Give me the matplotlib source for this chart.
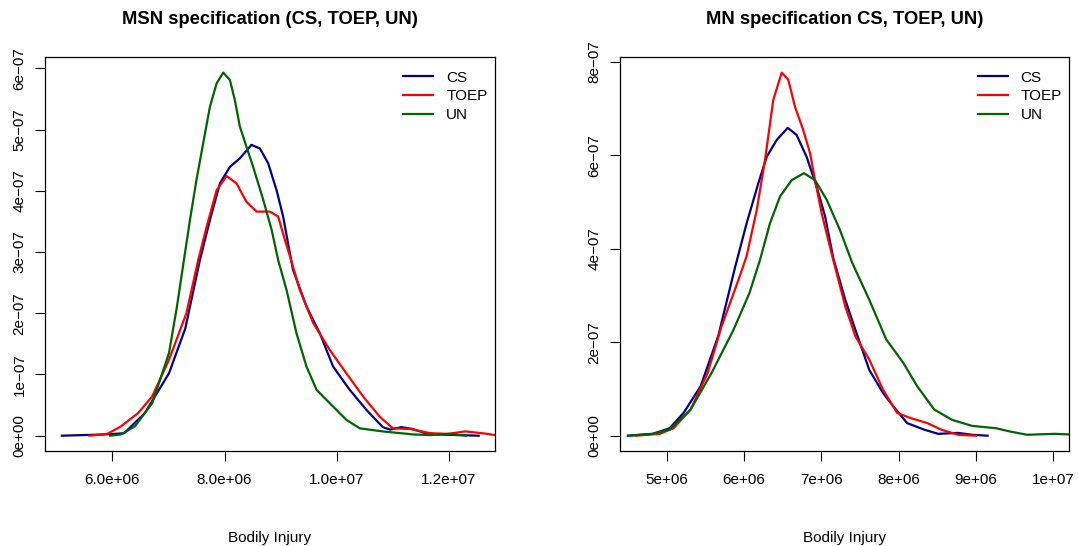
import matplotlib
matplotlib.use("Agg")
import matplotlib.pyplot as plt
import numpy as np

plt.rcParams['font.family'] = ['Liberation Sans', 'DejaVu Sans']

# ======== data (x in 1e6, y in 1e-7) ========
# left panel: MSN specification
msn_cs_x = [5.10, 5.85, 6.21, 6.58, 7.01, 7.30, 7.561, 7.739, 7.917, 8.095, 8.273, 8.48,
            8.63, 8.777, 8.927, 9.044, 9.164, 9.22, 9.46, 9.70, 9.934, 10.23, 10.53,
            10.82, 10.95, 11.15, 11.35, 11.55, 11.80, 12.53]
msn_cs_y = [0.0, 0.02, 0.04, 0.37, 1.02, 1.75, 2.87, 3.52, 4.12, 4.39, 4.53, 4.75,
            4.69, 4.45, 4.01, 3.58, 2.98, 2.71, 2.11, 1.67, 1.13, 0.75, 0.42,
            0.14, 0.10, 0.14, 0.11, 0.05, 0.02, 0.0]

msn_toep_x = [5.59, 5.91, 6.15, 6.46, 6.71, 7.01, 7.32, 7.531, 7.68, 7.859, 8.036, 8.214,
              8.39, 8.57, 8.807, 8.955, 9.075, 9.133, 9.342, 9.58, 9.876, 10.17, 10.47,
              10.766, 11.0, 11.31, 11.67, 11.98, 12.29, 12.60, 12.90]
msn_toep_y = [0.0, 0.03, 0.15, 0.37, 0.64, 1.24, 2.00, 2.87, 3.41, 4.01, 4.24, 4.12,
              3.82, 3.66, 3.66, 3.58, 3.20, 3.03, 2.38, 1.84, 1.40, 1.02, 0.64,
              0.31, 0.12, 0.11, 0.04, 0.03, 0.07, 0.04, 0.0]

msn_un_x = [5.96, 6.15, 6.40, 6.71, 7.01, 7.15, 7.294, 7.383, 7.50, 7.62, 7.739, 7.859,
            7.976, 8.095, 8.184, 8.273, 8.39, 8.51, 8.69, 8.84, 8.955, 9.105, 9.283,
            9.46, 9.64, 9.876, 10.17, 10.41, 10.82, 11.37, 11.67, 12.00, 12.30]
msn_un_y = [0.0, 0.02, 0.15, 0.53, 1.35, 2.10, 2.98, 3.52, 4.18, 4.78, 5.37, 5.755,
            5.93, 5.81, 5.48, 5.05, 4.72, 4.39, 3.85, 3.36, 2.87, 2.38, 1.67,
            1.13, 0.75, 0.53, 0.26, 0.12, 0.07, 0.02, 0.01, 0.03, 0.0]

# right panel: MN specification
mn_cs_x = [4.50, 4.82, 5.04, 5.22, 5.44, 5.67, 5.884, 6.035, 6.185, 6.294, 6.423, 6.566,
           6.68, 6.81, 6.94, 7.05, 7.155, 7.31, 7.44, 7.62, 7.80, 7.93, 8.11, 8.33,
           8.51, 8.77, 8.95, 9.15]
mn_cs_y = [0.0, 0.04, 0.16, 0.49, 1.06, 2.15, 3.60, 4.55, 5.40, 5.97, 6.33, 6.59,
           6.44, 5.97, 5.33, 4.69, 3.80, 2.91, 2.27, 1.41, 0.91, 0.63, 0.27, 0.13,
           0.04, 0.06, 0.02, 0.0]

mn_toep_x = [4.60, 4.91, 5.09, 5.31, 5.53, 5.71, 5.93, 6.035, 6.165, 6.272, 6.379, 6.488,
             6.573, 6.66, 6.767, 6.854, 6.919, 7.005, 7.09, 7.155, 7.31, 7.44, 7.62,
             7.80, 7.98, 8.15, 8.37, 8.55, 8.77, 9.00]
mn_toep_y = [0.0, 0.04, 0.16, 0.56, 1.34, 2.34, 3.34, 3.85, 4.83, 5.90, 7.19, 7.77,
             7.62, 7.04, 6.54, 6.05, 5.47, 4.76, 4.19, 3.76, 2.77, 2.13, 1.63,
             0.98, 0.49, 0.38, 0.27, 0.13, 0.02, 0.0]

mn_un_x = [4.50, 4.82, 5.04, 5.31, 5.58, 5.86, 6.07, 6.207, 6.337, 6.466, 6.617, 6.776,
           6.919, 7.07, 7.242, 7.40, 7.62, 7.84, 8.06, 8.24, 8.46, 8.69, 8.95, 9.26,
           9.44, 9.66, 10.02, 10.30]
mn_un_y = [0.0, 0.04, 0.13, 0.56, 1.34, 2.25, 3.05, 3.76, 4.55, 5.12, 5.47, 5.62,
           5.47, 5.05, 4.40, 3.70, 2.91, 2.06, 1.56, 1.06, 0.56, 0.34, 0.21, 0.16,
           0.09, 0.02, 0.04, 0.02]

series_names = ["CS", "TOEP", "UN"]
series_colors = ["#00008B", "#FF0000", "#006400"]

left_xticks = [6.0e6, 8.0e6, 1.0e7, 1.2e7]
left_xticklabels = ["6.0e+06", "8.0e+06", "1.0e+07", "1.2e+07"]
left_yticks = [0, 1e-7, 2e-7, 3e-7, 4e-7, 5e-7, 6e-7]
left_yticklabels = ["0e+00", "1e\u221207", "2e\u221207", "3e\u221207", "4e\u221207",
                    "5e\u221207", "6e\u221207"]

right_xticks = [5e6, 6e6, 7e6, 8e6, 9e6, 1e7]
right_xticklabels = ["5e+06", "6e+06", "7e+06", "8e+06", "9e+06", "1e+07"]
right_yticks = [0, 2e-7, 4e-7, 6e-7, 8e-7]
right_yticklabels = ["0e+00", "2e\u221207", "4e\u221207", "6e\u221207", "8e\u221207"]

# ======== figure ========
W, H = 1078, 546
fig = plt.figure(figsize=(W / 100, H / 100), dpi=100)


def make_axes(x0, x1, y0, y1):
    return fig.add_axes([x0 / W, 1 - y1 / H, (x1 - x0) / W, (y1 - y0) / H])


def draw_panel(ax, xs, ys, title, xlim, ylim, xticks, xticklabels, yticks, yticklabels):
    for x, y, c, n in zip(xs, ys, series_colors, series_names):
        ax.plot(np.array(x) * 1e6, np.array(y) * 1e-7, color=c, lw=1.6, label=n,
                solid_joinstyle="round")
    ax.set_xlim(*xlim)
    ax.set_ylim(*ylim)
    ax.set_xticks(xticks)
    ax.set_xticklabels(xticklabels, fontsize=11)
    ax.set_yticks(yticks)
    ax.set_yticklabels(yticklabels, fontsize=11, rotation=90, va="center")
    ax.tick_params(axis="x", direction="out", length=7.2, width=0.8, pad=8.5)
    ax.tick_params(axis="y", direction="out", length=7.2, width=0.8, pad=6)
    for s in ax.spines.values():
        s.set_linewidth(0.9)
    ax.legend(loc="upper right", bbox_to_anchor=(1.007, 0.993), frameon=False,
              fontsize=11, handlelength=1.95, handletextpad=0.85,
              labelspacing=0.3, borderpad=0.2)
    bb = ax.get_position()
    cx = (bb.x0 + bb.x1) / 2
    fig.text(cx, 1 - 19.5 / H, title, ha="center", va="center",
             fontsize=13.2, fontweight="bold")
    fig.text(cx, 1 - 541.7 / H, "Bodily Injury", ha="center", va="baseline",
             fontsize=11)


ax1 = make_axes(45, 495, 57.3, 450.7)
draw_panel(ax1, [msn_cs_x, msn_toep_x, msn_un_x], [msn_cs_y, msn_toep_y, msn_un_y],
           "MSN specification (CS, TOEP, UN)", (4.80e6, 12.82e6), (-0.245e-7, 6.18e-7),
           left_xticks, left_xticklabels, left_yticks, left_yticklabels)

ax2 = make_axes(620, 1069.3, 57.3, 450.7)
draw_panel(ax2, [mn_cs_x, mn_toep_x, mn_un_x], [mn_cs_y, mn_toep_y, mn_un_y],
           "MN specification CS, TOEP, UN)", (4.397e6, 10.207e6), (-0.321e-7, 8.10e-7),
           right_xticks, right_xticklabels, right_yticks, right_yticklabels)

fig.savefig("out.png", dpi=100)
